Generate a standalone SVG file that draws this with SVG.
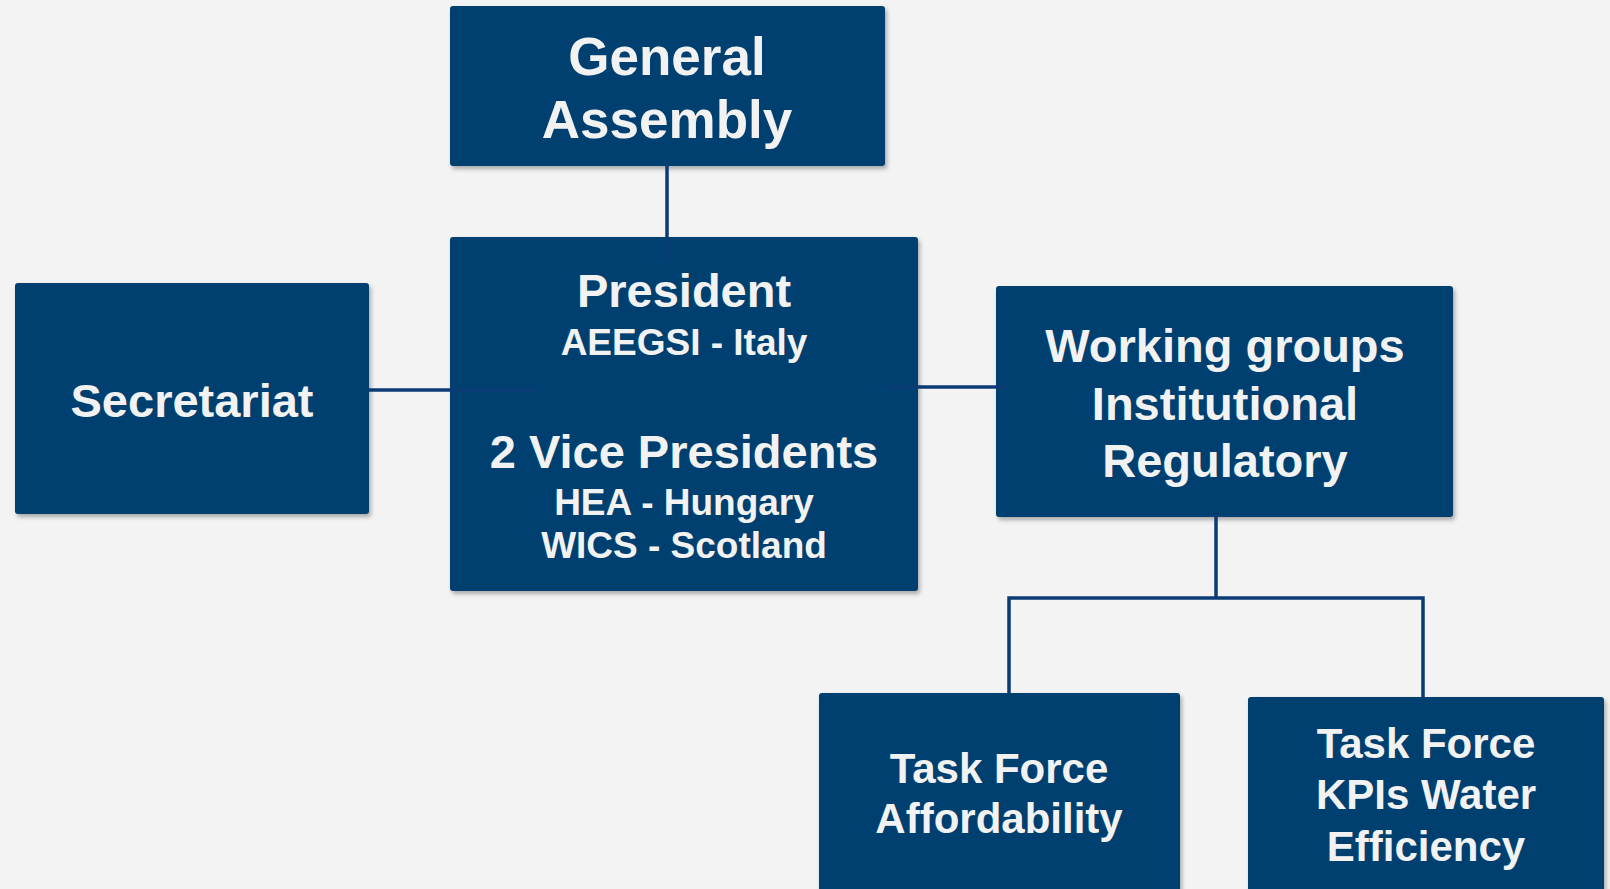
<svg xmlns="http://www.w3.org/2000/svg" width="1610" height="889" viewBox="0 0 1610 889">
  <style>
    .box { fill: #003f6f; filter: url(#shadow); }
    .lbl { font-family: "Liberation Sans", Arial, sans-serif; font-weight: bold; fill: #f2f2f2; text-anchor: middle; }
    .link { stroke: #0b3b74; stroke-width: 3.5; fill: none; }
  </style>
  <defs>
    <filter id="shadow" x="-5%" y="-5%" width="112%" height="115%">
      <feDropShadow dx="2" dy="3" stdDeviation="2" flood-color="#000" flood-opacity="0.3"/>
    </filter>
  </defs>
  <rect width="1610" height="889" fill="#f3f3f3"/>

  <g id="general-assembly">
    <rect class="box" x="450" y="6" width="435" height="160" rx="3"/>
    <text class="lbl" font-size="53" x="667" y="75">General</text>
    <text class="lbl" font-size="53" x="667" y="138">Assembly</text>
  </g>

  <g id="secretariat">
    <rect class="box" x="15" y="283" width="354" height="231" rx="3"/>
    <text class="lbl" font-size="47" x="192" y="417">Secretariat</text>
  </g>

  <g id="presidency">
    <rect class="box" x="450" y="237" width="468" height="354" rx="3"/>
    <text class="lbl" font-size="47" x="684" y="307">President</text>
    <text class="lbl" font-size="37" x="684" y="355">AEEGSI - Italy</text>
    <text class="lbl" font-size="47" x="684" y="468">2 Vice Presidents</text>
    <text class="lbl" font-size="37" x="684" y="515">HEA - Hungary</text>
    <text class="lbl" font-size="37" x="684" y="558">WICS - Scotland</text>
  </g>

  <g id="working-groups">
    <rect class="box" x="996" y="286" width="457" height="231" rx="3"/>
    <text class="lbl" font-size="47" x="1225" y="362">Working groups</text>
    <text class="lbl" font-size="47" x="1225" y="420">Institutional</text>
    <text class="lbl" font-size="47" x="1225" y="477">Regulatory</text>
  </g>

  <g id="tf-affordability">
    <rect class="box" x="819" y="693" width="361" height="210" rx="3"/>
    <text class="lbl" font-size="42" x="999" y="783">Task Force</text>
    <text class="lbl" font-size="42" x="999" y="833">Affordability</text>
  </g>

  <g id="tf-kpis">
    <rect class="box" x="1248" y="697" width="356" height="210" rx="3"/>
    <text class="lbl" font-size="42" x="1426" y="758">Task Force</text>
    <text class="lbl" font-size="42" x="1426" y="809">KPIs Water</text>
    <text class="lbl" font-size="42" x="1426" y="861">Efficiency</text>
  </g>

  <g id="connectors">
    <line class="link" x1="667" y1="166" x2="667" y2="260"/>
    <line class="link" x1="369" y1="390" x2="538" y2="390"/>
    <line class="link" x1="886" y1="387" x2="1006" y2="387"/>
    <polyline class="link" points="1216,517 1216,598"/>
    <polyline class="link" points="1009,693 1009,598 1423,598 1423,697"/>
  </g>
</svg>
